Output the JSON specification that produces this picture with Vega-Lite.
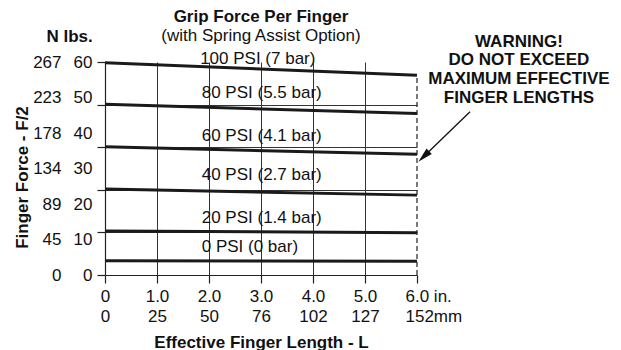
{
  "$schema": "https://vega.github.io/schema/vega-lite/v6.json",
  "width": 312,
  "height": 213,
  "autosize": {"type": "none"},
  "padding": {"left": 105, "top": 62, "right": 204, "bottom": 75},
  "background": "white",
  "config": {
    "view": {"stroke": null},
    "font": "Liberation Sans",
    "axis": {
      "labelFont": "Liberation Sans", "labelFontSize": 17, "labelColor": "#111",
      "titleFont": "Liberation Sans", "titleFontSize": 17, "titleFontWeight": "bold", "titleColor": "#111",
      "domainColor": "#222", "domainWidth": 1.2, "tickColor": "#222", "tickWidth": 1.2,
      "gridColor": "#333", "gridWidth": 1, "labelOverlap": false, "labelFlush": false, "labelBound": false
    }
  },
  "title": {
    "text": "Grip Force Per Finger",
    "subtitle": "(with Spring Assist Option)",
    "frame": "group", "anchor": "middle",
    "font": "Liberation Sans", "subtitleFont": "Liberation Sans",
    "fontSize": 17, "subtitleFontSize": 17, "fontWeight": "bold", "subtitleFontWeight": "normal",
    "color": "#111", "subtitleColor": "#111",
    "offset": -17.5, "subtitlePadding": 2
  },
  "datasets": {
    "curves": [
      {"series": "100 PSI", "L": 0, "F": 59.8}, {"series": "100 PSI", "L": 6, "F": 56.3},
      {"series": "80 PSI", "L": 0, "F": 48.1}, {"series": "80 PSI", "L": 6, "F": 45.5},
      {"series": "60 PSI", "L": 0, "F": 36.1}, {"series": "60 PSI", "L": 6, "F": 34.0},
      {"series": "40 PSI", "L": 0, "F": 24.2}, {"series": "40 PSI", "L": 6, "F": 22.5},
      {"series": "20 PSI", "L": 0, "F": 12.4}, {"series": "20 PSI", "L": 6, "F": 11.9},
      {"series": "0 PSI", "L": 0, "F": 4.0}, {"series": "0 PSI", "L": 6, "F": 3.9}
    ],
    "labels": [
      {"label": "100 PSI (7 bar)", "L": 1.83, "F": 60.85},
      {"label": "80 PSI (5.5 bar)", "L": 1.86, "F": 51.2},
      {"label": "60 PSI (4.1 bar)", "L": 1.86, "F": 39.2},
      {"label": "40 PSI (2.7 bar)", "L": 1.86, "F": 28.1},
      {"label": "20 PSI (1.4 bar)", "L": 1.86, "F": 16.1},
      {"label": "0 PSI (0 bar)", "L": 1.86, "F": 7.8}
    ],
    "limit": [{"L": 6, "F": 0, "F2": 56.3}],
    "note": [{"text": "WARNING!\nDO NOT EXCEED\nMAXIMUM EFFECTIVE\nFINGER LENGTHS", "L": 7.96, "F": 68.0}],
    "arrow": [{"L": 7.02, "F": 46.0, "L2": 6.13, "F2": 33.4}]
  },
  "layer": [
    {
      "data": {"name": "curves"},
      "mark": {"type": "line", "color": "#1a1a1a", "strokeWidth": 3},
      "encoding": {
        "x": {"field": "L", "type": "quantitative", "scale": {"domain": [0, 6], "nice": false, "zero": false},
          "axis": {"orient": "bottom", "values": [0, 1, 2, 3, 4, 5, 6], "grid": true,
            "gridColor": {"condition": {"test": "datum.value == 0 || datum.value == 6", "value": "transparent"}, "value": "#333"},
            "tickSize": 8, "labelPadding": 5,
            "labelExpr": "['0','1.0','2.0','3.0','4.0','5.0','6.0 in.'][round(datum.value)]",
            "labelAlign": {"condition": {"test": "datum.value == 6", "value": "left"}, "value": "center"},
            "labelOffset": {"condition": {"test": "datum.value == 6", "value": -12}, "value": 0},
            "title": "Effective Finger Length - L", "titleY": 59, "titleBaseline": "top"}},
        "y": {"field": "F", "type": "quantitative", "scale": {"domain": [0, 60], "nice": false},
          "axis": {"orient": "left", "values": [0, 12, 24, 36, 48, 60], "grid": true,
            "gridColor": {"condition": {"test": "datum.value == 0 || datum.value == 60", "value": "transparent"}, "value": "#333"},
            "labels": false, "tickSize": 8,
            "title": "Finger Force - F/2", "titleAngle": 270, "titleX": -78, "titleY": 115, "titleAlign": "center", "titleBaseline": "alphabetic"}},
        "detail": {"field": "series", "type": "nominal"}
      }
    },
    {
      "data": {"name": "labels"},
      "mark": {"type": "text", "align": "left", "baseline": "middle", "fontSize": 17, "font": "Liberation Sans", "color": "#111"},
      "encoding": {
        "x": {"field": "L", "type": "quantitative", "scale": {"domain": [0, 6], "nice": false, "zero": false},
          "axis": {"orient": "bottom", "values": [0, 1, 2, 3, 4, 5, 6], "grid": false, "ticks": false, "tickSize": 0, "domain": false,
            "labelPadding": 33,
            "labelExpr": "['0','25','50','76','102','127','152mm'][round(datum.value)]",
            "labelAlign": {"condition": {"test": "datum.value == 6", "value": "left"}, "value": "center"},
            "labelOffset": {"condition": {"test": "datum.value == 6", "value": -12}, "value": 0},
            "title": null}},
        "y": {"field": "F", "type": "quantitative", "scale": {"domain": [0, 60], "nice": false},
          "axis": {"orient": "left", "values": [0, 10, 20, 30, 40, 50, 60], "grid": false, "ticks": false, "tickSize": 0, "domain": false,
            "labelPadding": 13,
            "title": "lbs.", "titleAngle": 0, "titleX": -42, "titleY": -21, "titleAlign": "left", "titleBaseline": "alphabetic", "titleFontSize": 17}},
        "text": {"field": "label"}
      }
    },
    {
      "data": {"name": "limit"},
      "mark": {"type": "rule", "strokeDash": [5, 3], "strokeWidth": 1.2, "color": "#222"},
      "encoding": {
        "x": {"field": "L", "type": "quantitative", "scale": {"domain": [0, 6], "nice": false, "zero": false}, "axis": null},
        "y": {"field": "F", "type": "quantitative", "scale": {"domain": [0, 60], "nice": false},
          "axis": {"orient": "left", "values": [0, 10, 20, 30, 40, 50, 60], "grid": false, "ticks": false, "tickSize": 0, "domain": false,
            "labelPadding": 44,
            "labelExpr": "['0','45','89','134','178','223','267'][round(datum.value/10)]",
            "title": "N", "titleAngle": 0, "titleX": -59, "titleY": -21, "titleAlign": "left", "titleBaseline": "alphabetic", "titleFontSize": 17}},
        "y2": {"field": "F2"}
      }
    },
    {
      "data": {"name": "note"},
      "mark": {"type": "text", "align": "center", "baseline": "top", "lineBreak": "\n", "lineHeight": 18.8, "fontSize": 17, "fontWeight": "bold", "font": "Liberation Sans", "color": "#111"},
      "encoding": {
        "x": {"field": "L", "type": "quantitative", "scale": {"domain": [0, 6], "nice": false, "zero": false}, "axis": null},
        "y": {"field": "F", "type": "quantitative", "scale": {"domain": [0, 60], "nice": false}, "axis": null},
        "text": {"field": "text"}
      }
    },
    {
      "data": {"name": "arrow"},
      "mark": {"type": "rule", "strokeWidth": 1.3, "color": "#111"},
      "encoding": {
        "x": {"field": "L", "type": "quantitative", "scale": {"domain": [0, 6], "nice": false, "zero": false}, "axis": null},
        "y": {"field": "F", "type": "quantitative", "scale": {"domain": [0, 60], "nice": false}, "axis": null},
        "x2": {"field": "L2"},
        "y2": {"field": "F2"}
      }
    },
    {
      "data": {"name": "arrow"},
      "mark": {"type": "point", "shape": "M0,-1L0.5,1L-0.5,1Z", "size": 225, "angle": 226, "filled": true, "opacity": 1, "color": "#111", "strokeWidth": 0},
      "encoding": {
        "x": {"field": "L2", "type": "quantitative", "scale": {"domain": [0, 6], "nice": false, "zero": false}, "axis": null},
        "y": {"field": "F2", "type": "quantitative", "scale": {"domain": [0, 60], "nice": false}, "axis": null}
      }
    }
  ],
  "resolve": {"axis": {"x": "independent", "y": "independent"}}
}
